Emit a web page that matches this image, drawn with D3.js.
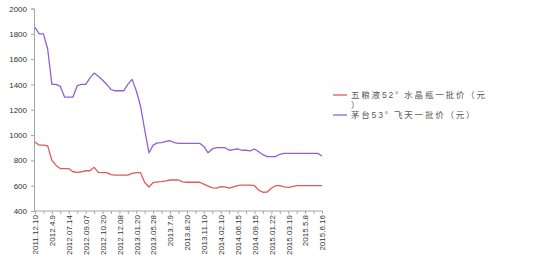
<!DOCTYPE html>
<html>
<head>
<meta charset="utf-8">
<script src="https://cdn.jsdelivr.net/npm/d3@7"></script>
<style>
  body { margin: 0; background: #fff; }
  svg { display: block; }
</style>
</head>
<body>
<svg id="chart" width="537" height="269"></svg>
<script>
// data
var tickLabels = ["2011.12.10", "2012.4.9", "2012.07.14", "2012.09.07", "2012.10.20", "2012.12.08", "2013.01.20", "2013.05.28", "2013.7.9", "2013.8.20", "2013.11.10", "2014.02.10", "2014.06.15", "2014.09.15", "2015.01.22", "2015.03.19", "2015.5.8", "2015.6.16"]
var seriesNames = ["五粮液52° 水晶瓶一批价（元）", "茅台53° 飞天一批价（元）"]
var seriesColors = ["#e05a5a", "#9360d2"]

var wuliangye = [946, 920, 920, 915, 800, 760, 735, 735, 735, 710,
  705, 710, 718, 718, 745, 705, 703, 703, 688, 684,
  684, 684, 684, 698, 703, 703, 625, 590, 625, 630,
  632, 638, 645, 645, 645, 630, 627, 627, 627, 627,
  612, 597, 582, 580, 593, 590, 580, 590, 600, 605,
  605, 605, 600, 565, 548, 550, 580, 600, 600, 590,
  587, 592, 600, 600, 600, 600, 600, 600, 600]

var moutai = [1850, 1800, 1800, 1680, 1400, 1400, 1385, 1300, 1300, 1300,
  1390, 1400, 1400, 1450, 1490, 1465, 1435, 1400, 1360, 1350,
  1350, 1350, 1400, 1440, 1350, 1230, 1040, 860, 920, 938,
  940, 950, 955, 940, 935, 935, 935, 935, 935, 935,
  910, 860, 890, 900, 900, 900, 880, 885, 890, 880,
  880, 875, 890, 868, 845, 830, 830, 830, 848, 855,
  855, 855, 855, 855, 855, 855, 855, 855, 835]

var yTicks = [400, 600, 800, 1000, 1200, 1400, 1600, 1800, 2000]

var svg = d3.select("#chart")

var idx = d3.range(wuliangye.length)

var xScale = d3.scalePoint()
  .domain(idx)
  .range([35, 322])

var yScale = d3.scaleLinear()
  .domain([400, 2000])
  .range([211, 8.5])

// y axis
var yAxisGen = d3.axisLeft(yScale).tickValues(yTicks).tickSize(3).tickPadding(4).tickFormat(d3.format("d"))
var yAxis = svg.append("g")
  .attr("transform", "translate(34,0)")
  .call(yAxisGen)
yAxis.select(".domain").attr("stroke", "#a6a6a6")
yAxis.selectAll(".tick line").attr("stroke", "#a6a6a6")
yAxis.selectAll(".tick text")
  .attr("fill", "#333")
  .style("font-family", "Liberation Sans, Arial, sans-serif")
  .style("font-size", "8px")

// x axis, minor tick every 2 points, label every 4
var xAxisGen = d3.axisBottom(xScale)
  .tickValues(idx.filter(i => i % 2 == 0))
  .tickSize(3)
  .tickFormat(i => i % 4 == 0 ? tickLabels[i / 4] : "")
var xAxis = svg.append("g")
  .attr("transform", "translate(0,211)")
  .call(xAxisGen)
xAxis.select(".domain").attr("d", "M34,0H322").attr("stroke", "#a6a6a6")
xAxis.selectAll(".tick line").attr("stroke", "#a6a6a6")
xAxis.selectAll(".tick text")
  .attr("transform", "rotate(-90)")
  .attr("text-anchor", "end")
  .attr("x", -4)
  .attr("y", 0)
  .attr("dy", "0.35em")
  .attr("fill", "#333")
  .style("font-family", "Liberation Sans, Arial, sans-serif")
  .style("font-size", "8px")

// lines
var line = d3.line()
  .x((d, i) => xScale(i))
  .y(d => yScale(d))

;[wuliangye, moutai].forEach(function(values, k) {
  svg.append("path")
    .datum(values)
    .attr("fill", "none")
    .attr("stroke", seriesColors[k])
    .attr("stroke-width", 1.3)
    .attr("stroke-linejoin", "round")
    .attr("d", line)
})

// legend (first name wraps like in the original)
var legend = svg.append("g")
  .style("font-family", "Liberation Sans, Noto Sans CJK SC, sans-serif")
  .style("font-size", "8.5px")
  .style("letter-spacing", "1.8px")
  .attr("fill", "#595959")

var legendRows = [
  { color: seriesColors[0], y: 95, lines: ["五粮液52° 水晶瓶一批价（元", "）"] },
  { color: seriesColors[1], y: 115, lines: ["茅台53° 飞天一批价（元）"] }
]
legendRows.forEach(function(r) {
  legend.append("line")
    .attr("x1", 333).attr("x2", 347)
    .attr("y1", r.y).attr("y2", r.y)
    .attr("stroke", r.color)
    .attr("stroke-width", 1.3)
  r.lines.forEach(function(t, j) {
    legend.append("text")
      .attr("x", 351)
      .attr("y", r.y + j * 10)
      .attr("dy", "0.35em")
      .text(t)
  })
})
</script>
</body>
</html>
